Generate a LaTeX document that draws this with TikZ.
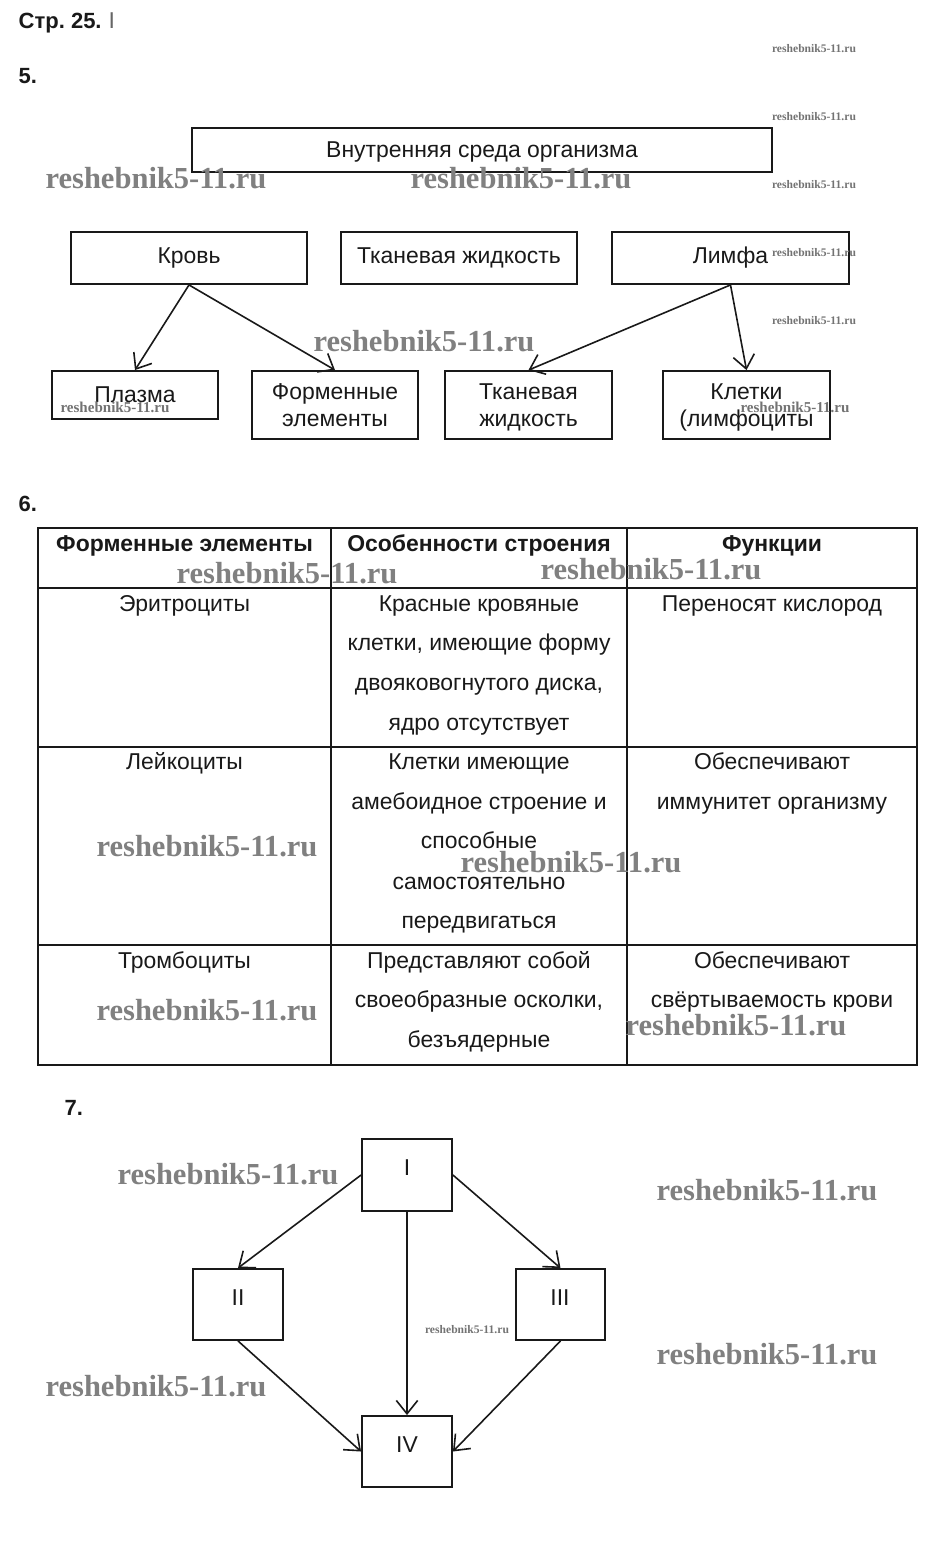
\documentclass[tikz,border=0pt]{standalone}
\usepackage{fontspec}
\setmainfont{Liberation Sans}
\newfontfamily\wmfont{Liberation Serif}
\usetikzlibrary{arrows.meta}
\begin{document}
\begin{tikzpicture}[x=0.75pt,y=-0.75pt,
  every node/.style={font=\fontsize{17.2}{20.25}\selectfont, text=black!90},
  box/.style={draw=black!90, line width=1.4pt, inner sep=0pt, align=center},
  arr/.style={draw=black!90, line width=1.2pt, -{Straight Barb[length=10pt,width=16pt,line width=1.2pt]}},
  tl/.style={anchor=base},
  hd/.style={anchor=base, font=\fontsize{17.2}{20}\selectfont\bfseries},
  num/.style={anchor=base west, font=\fontsize{16.5}{20}\selectfont\bfseries},
  grid/.style={draw=black!90, line width=0.8pt},
  wm/.style={text=black!50, font=\wmfont\bfseries\fontsize{22.9}{24}\selectfont},
  wmm/.style={text=black!55, font=\wmfont\bfseries\fontsize{11.3}{12}\selectfont},
  wms/.style={text=black!55, font=\wmfont\bfseries\fontsize{8.7}{10}\selectfont}
]
\useasboundingbox (0,0) rectangle (930,1543);

% headings
\node[num] (h0) at (14,28) {Стр.~25.};
\node[anchor=base west, text=black!60] (h0b) at (104,28) {I};
\node[num] (h5) at (14,83) {5.};
\node[num] (h6) at (14,511) {6.};
\node[num] (h7) at (60,1115) {7.};

% ---------- section 5 ----------
\node[box, minimum width=435pt, minimum height=33pt, text depth=1pt] (env) at (482,150) {Внутренняя среда организма};
\node[box, minimum width=177pt, minimum height=39pt] (krov) at (189,258) {Кровь};
\node[box, minimum width=177pt, minimum height=39pt] (tkan1) at (459,258) {Тканевая жидкость};
\node[box, minimum width=177.75pt, minimum height=39pt] (limfa) at (730.5,258) {Лимфа};
\node[box, minimum width=124.5pt, minimum height=36pt] (plazma) at (135,395) {Плазма};
\node[box, minimum width=124.5pt, minimum height=51pt, text depth=0pt] (formen) at (335,405) {Форменные\\элементы};
\node[box, minimum width=125.25pt, minimum height=51pt, text depth=0pt] (tkan2) at (528.5,405) {Тканевая\\жидкость};
\node[box, minimum width=125.25pt, minimum height=51pt, text depth=0pt] (kletki) at (746.5,405) {Клетки\\(лимфоциты};

\draw[arr] (krov.south) -- (plazma.north);
\draw[arr] (krov.south) -- (formen.north);
\draw[arr] (limfa.south) -- (tkan2.north);
\draw[arr] (limfa.south) -- (kletki.north);

% ---------- section 6 (table) ----------
\draw[grid] (38,528) rectangle (917,1065);
\draw[grid] (331,528) -- (331,1065);
\draw[grid] (627,528) -- (627,1065);
\draw[grid] (38,588) -- (917,588);
\draw[grid] (38,747) -- (917,747);
\draw[grid] (38,945) -- (917,945);

\node[hd] (th1) at (184.5,551) {Форменные элементы};
\node[hd] (th2) at (479,551) {Особенности строения};
\node[hd] (th3) at (772,551) {Функции};

\node[tl] (r1c1) at (184.5,611) {Эритроциты};
\node[tl] (r1c2a) at (479,611) {Красные кровяные};
\node[tl] (r1c2b) at (479,650) {клетки, имеющие форму};
\node[tl] (r1c2c) at (479,690) {двояковогнутого диска,};
\node[tl] (r1c2d) at (479,730) {ядро отсутствует};
\node[tl] (r1c3) at (772,611) {Переносят кислород};

\node[tl] (r2c1) at (184.5,769) {Лейкоциты};
\node[tl] (r2c2a) at (479,769) {Клетки имеющие};
\node[tl] (r2c2b) at (479,809) {амебоидное строение и};
\node[tl] (r2c2c) at (479,848) {способные};
\node[tl] (r2c2d) at (479,889) {самостоятельно};
\node[tl] (r2c2e) at (479,928) {передвигаться};
\node[tl] (r2c3a) at (772,769) {Обеспечивают};
\node[tl] (r2c3b) at (772,809) {иммунитет организму};

\node[tl] (r3c1) at (184.5,968) {Тромбоциты};
\node[tl] (r3c2a) at (479,968) {Представляют собой};
\node[tl] (r3c2b) at (479,1007) {своеобразные осколки,};
\node[tl] (r3c2c) at (479,1047) {безъядерные};
\node[tl] (r3c3a) at (772,968) {Обеспечивают};
\node[tl] (r3c3b) at (772,1007) {свёртываемость крови};

% ---------- section 7 ----------
\node[box, minimum width=67.5pt, minimum height=54pt] (b1) at (407,1175) {};
\node[box, minimum width=67.5pt, minimum height=53.25pt] (b2) at (238,1304.5) {};
\node[box, minimum width=66.75pt, minimum height=53.25pt] (b3) at (560.5,1304.5) {};
\node[box, minimum width=67.5pt, minimum height=53.25pt] (b4) at (407,1451.5) {};
\node (t1) at (407,1168) {I};
\node (t2) at (238,1298) {II};
\node (t3) at (560,1298) {III};
\node (t4) at (407,1445) {IV};

\draw[arr] (b1.west) -- (b2.north);
\draw[arr] (b1.east) -- (b3.north);
\draw[arr] (b1.south) -- (b4.north);
\draw[arr] (b2.south) -- (b4.west);
\draw[arr] (b3.south) -- (b4.east);

% ---------- watermarks ----------
\node[wm] (w1) at (156,178) {reshebnik5-11.ru};
\node[wm] (w2) at (521,178) {reshebnik5-11.ru};
\node[wm] (w3) at (424,341) {reshebnik5-11.ru};
\node[wm] (w4) at (287,573) {reshebnik5-11.ru};
\node[wm] (w5) at (651,569) {reshebnik5-11.ru};
\node[wm] (w6) at (207,846) {reshebnik5-11.ru};
\node[wm] (w7) at (571,862) {reshebnik5-11.ru};
\node[wm] (w8) at (207,1010) {reshebnik5-11.ru};
\node[wm] (w9) at (736,1025) {reshebnik5-11.ru};
\node[wm] (w10) at (228,1174) {reshebnik5-11.ru};
\node[wm] (w11) at (767,1190) {reshebnik5-11.ru};
\node[wm] (w12) at (767,1354) {reshebnik5-11.ru};
\node[wm] (w13) at (156,1386) {reshebnik5-11.ru};
\node[wms] (s1) at (814,49) {reshebnik5-11.ru};
\node[wms] (s2) at (814,117) {reshebnik5-11.ru};
\node[wms] (s3) at (814,185) {reshebnik5-11.ru};
\node[wms] (s4) at (814,253) {reshebnik5-11.ru};
\node[wms] (s5) at (814,321) {reshebnik5-11.ru};
\node[wms] (s6) at (467,1330) {reshebnik5-11.ru};
\node[wmm] (m1) at (115,407) {reshebnik5-11.ru};
\node[wmm] (m2) at (795,407) {reshebnik5-11.ru};
\end{tikzpicture}
\end{document}
